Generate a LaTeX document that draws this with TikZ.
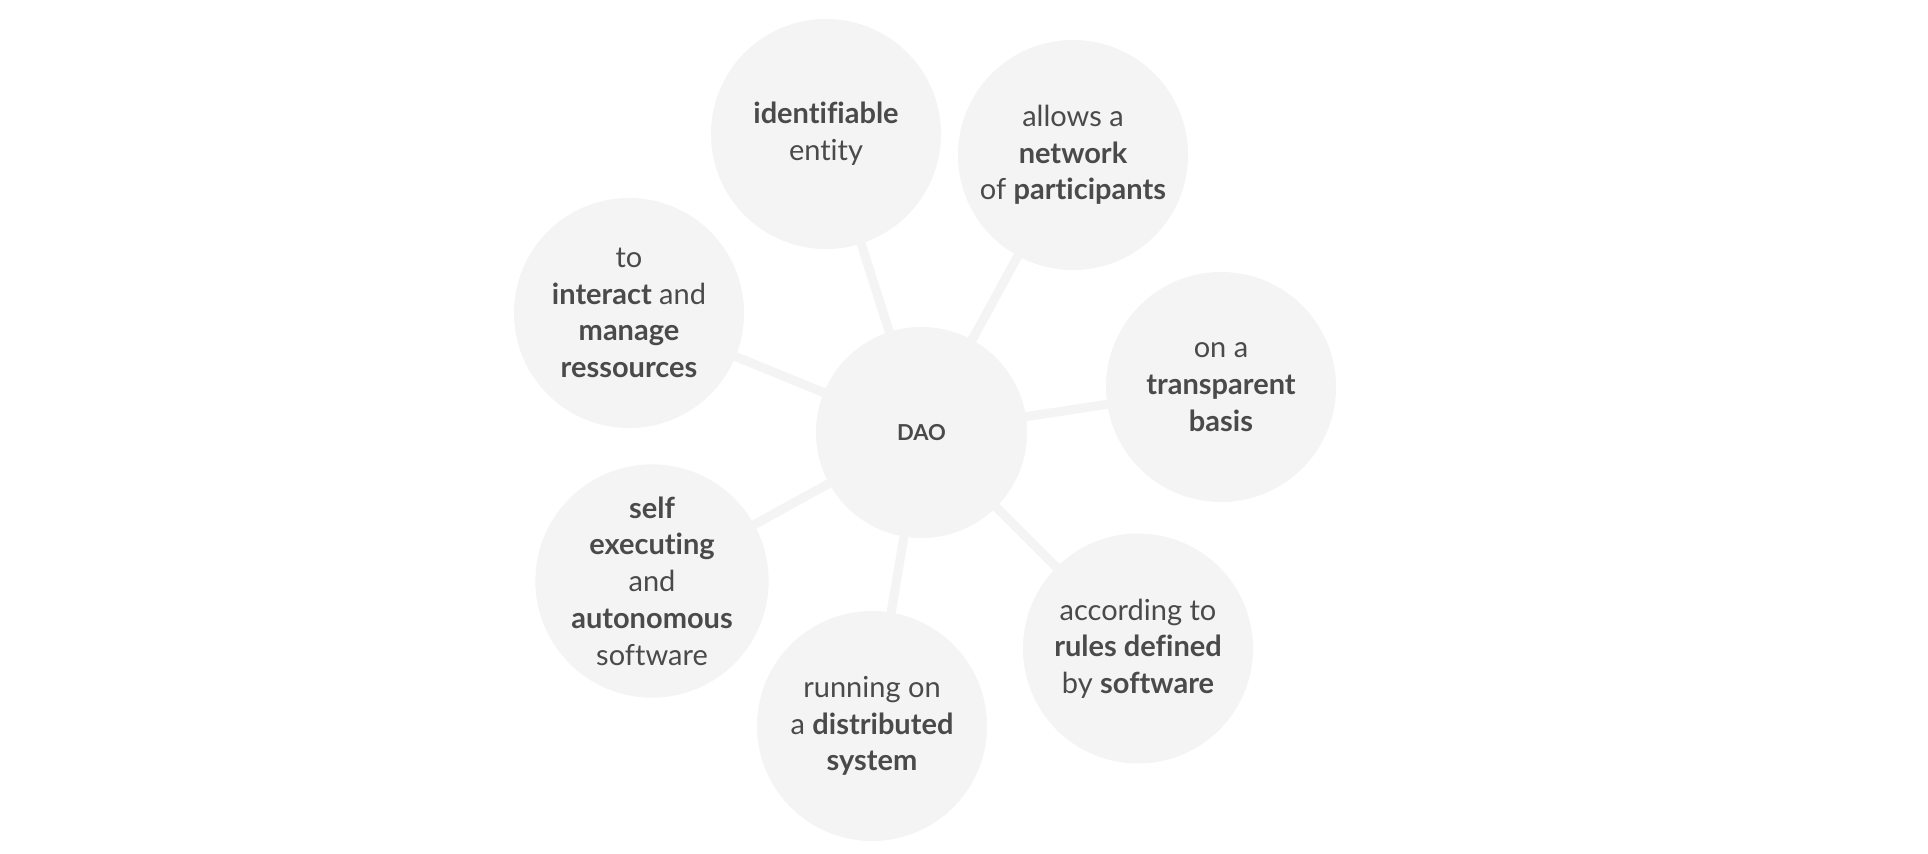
\documentclass[tikz,border=0pt]{standalone}
\usepackage{fontspec}
\setmainfont{Lato}[Ligatures=NoCommon]
\usetikzlibrary{backgrounds}
\definecolor{bubblefill}{HTML}{F4F4F4}
\definecolor{ink}{HTML}{4A4A4A}
\begin{document}
\begin{tikzpicture}[x=1pt,y=-1pt,
  bubble/.style={circle, fill=bubblefill, minimum size=230pt, inner sep=0pt, align=center, text=ink, font=\fontsize{29}{36.7}\selectfont},
  hub/.style={circle, fill=bubblefill, minimum size=211pt, inner sep=0pt, text=ink, font=\fontsize{22}{26}\selectfont\bfseries},
  spoke/.style={draw=bubblefill, line width=9pt}]
\useasboundingbox (0,0) rectangle (1928,854);
\node[hub] (dao) at (921.5,432.5) {DAO};
\node[bubble] (ident) at (826,134) {\textbf{identifiable}\\entity};
\node[bubble] (netw) at (1073,155) {allows a\\\textbf{network}\\of \textbf{participants}};
\node[bubble] (transp) at (1221,387) {on a\\\textbf{transparent}\\\textbf{basis}};
\node[bubble] (rules) at (1138,648.5) {according to\\\textbf{rules defined}\\by \textbf{software}};
\node[bubble] (runn) at (872,726) {running on\\a \textbf{distributed}\\\textbf{system}};
\node[bubble] (selfx) at (652,581) {\textbf{self}\\\textbf{executing}\\and\\\textbf{autonomous}\\software};
\node[bubble] (inter) at (629,313) {to\\\textbf{interact} and\\\textbf{manage}\\\textbf{ressources}};
\begin{pgfonlayer}{background}
\fill[white] (0,0) rectangle (1928,854);
\foreach \n in {ident,netw,transp,rules,runn,selfx,inter}
  \draw[spoke] (dao.center) -- (\n.center);
\end{pgfonlayer}
\end{tikzpicture}
\end{document}
